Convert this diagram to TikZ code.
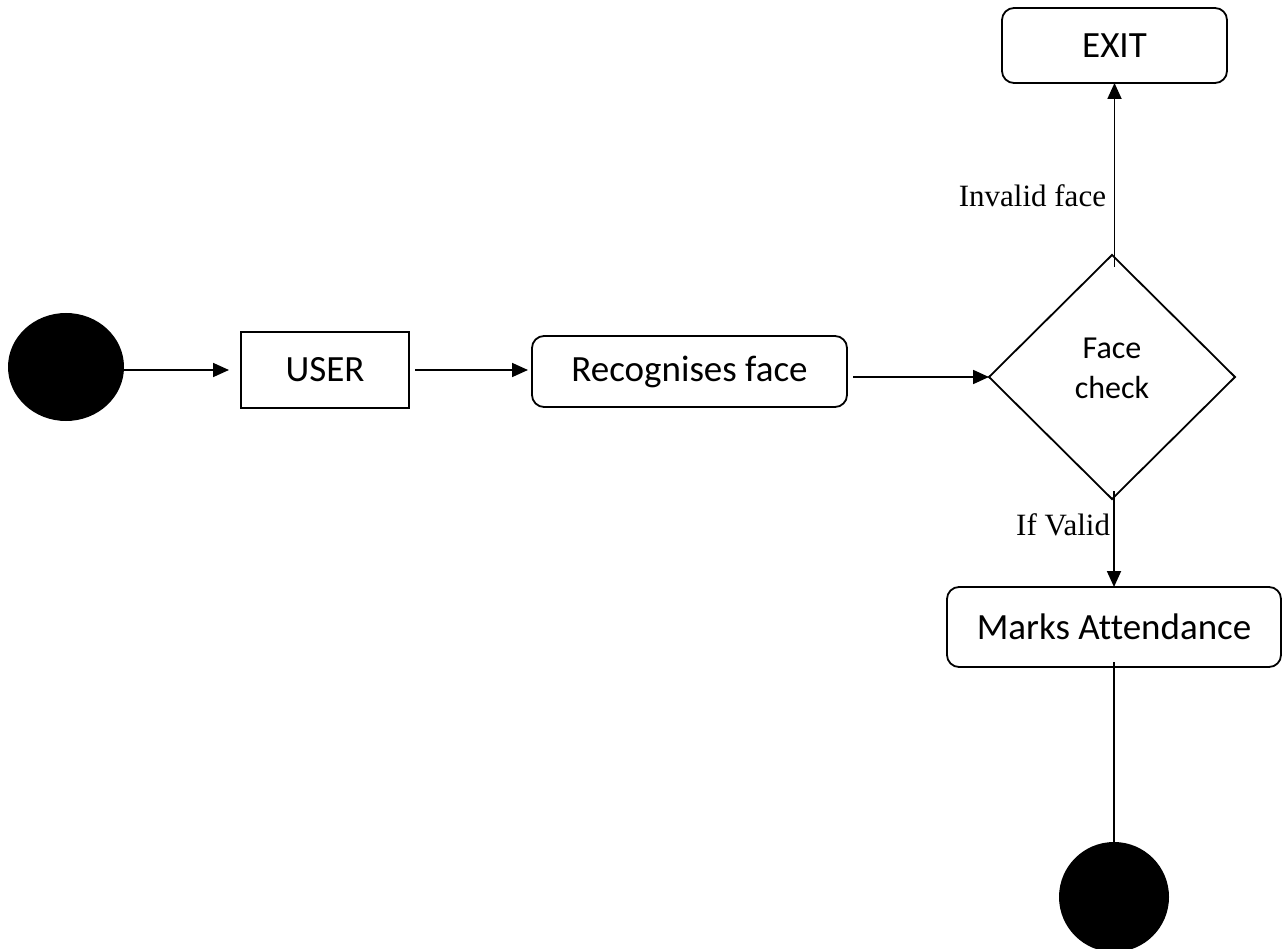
\documentclass[tikz,border=0pt]{standalone}
\usepackage{fontspec}
\setmainfont{Liberation Serif}
\newfontfamily\boxfont[Ligatures=NoCommon]{Carlito}
\usetikzlibrary{shapes.geometric,arrows.meta}
\begin{document}
\begin{tikzpicture}[x=1pt,y=-1pt,
  every node/.style={inner sep=0pt, outer sep=0pt},
  flow/.style={line width=1.8pt, draw=black},
  arr/.style={flow, -{Triangle[length=16pt,width=14pt]}},
  plainbox/.style={draw=black, line width=1.8pt, rectangle, font=\boxfont\fontsize{37}{44}\selectfont},
  roundbox/.style={plainbox, rounded corners=12pt},
  blob/.style={ellipse, fill=black, draw=none},
  lbl/.style={font=\fontsize{31}{36}\selectfont}
]
\useasboundingbox (0,0) rectangle (1282,949);
\fill[white] (0,0) rectangle (1282,949);

\node[blob, minimum width=116pt, minimum height=108pt] (start) at (66,367) {};
\node[plainbox, minimum width=168pt, minimum height=76pt] (user) at (325,370) {USER};
\node[roundbox, minimum width=315pt, minimum height=71pt] (rec) at (689.5,371.5) {Recognises face};
\node[diamond, draw=black, line width=1.8pt, aspect=1, minimum width=246pt, minimum height=244pt,
      font=\boxfont\fontsize{32}{40}\selectfont] (dia) at (1112,377) {\raisebox{2pt}[0pt][0pt]{\parbox{80pt}{\centering Face\\check}}};
\node[roundbox, minimum width=225pt, minimum height=75pt] (exit) at (1114.5,45.5) {EXIT};
\node[roundbox, minimum width=334pt, minimum height=80pt] (marks) at (1114,627) {Marks Attendance};
\node[blob, minimum width=110pt, minimum height=110pt] (end) at (1114,897) {};

\draw[arr, shorten >=12pt] (user.west -| start.east) -- (user.west);
\draw[arr, shorten <=6pt, shorten >=4pt] (user.east) -- (user.east -| rec.west);
\draw[arr, shorten <=6pt] (dia.west -| rec.east) -- (dia.west);
\draw[arr] ([yshift=-12pt]dia.north -| exit.south) -- (exit.south);
\draw[arr] ([yshift=8pt]dia.south -| marks.north) -- (marks.north);
\draw[flow] ([yshift=5pt]marks.south) -- (end.north);

\node[lbl, anchor=base east] (linv) at (1106,207) {Invalid face};
\node[lbl, anchor=base east] (lval) at (1110,535) {If Valid};
\end{tikzpicture}
\end{document}
